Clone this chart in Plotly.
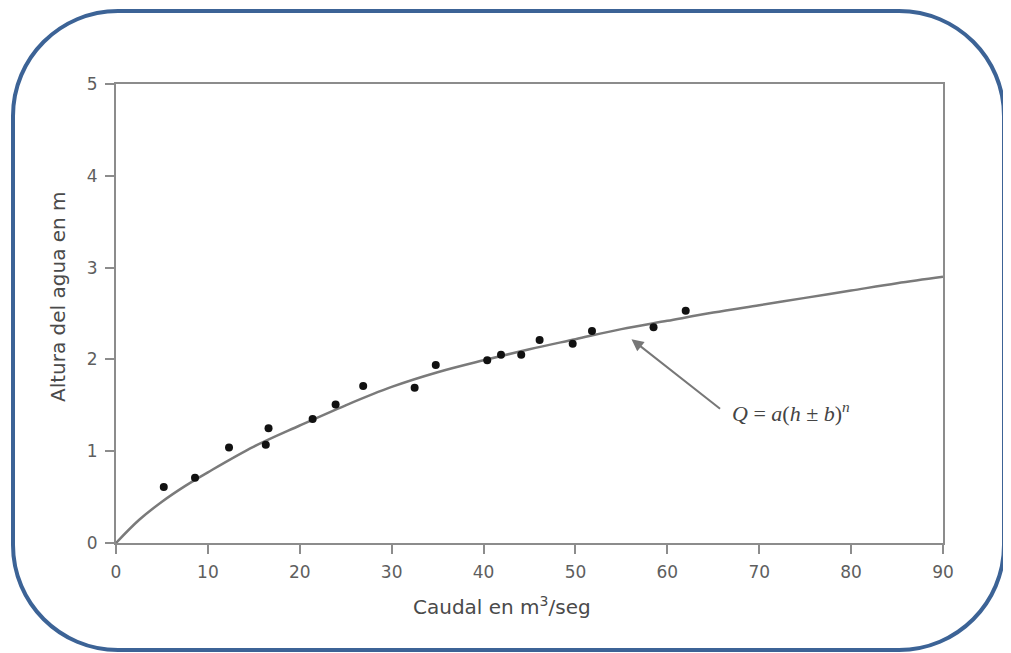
import plotly.graph_objects as go

# Observed data points (caudal Q in m3/seg, altura h in m)
caudal = [5.2, 8.6, 12.3, 16.3, 16.6, 21.4, 23.9, 26.9, 32.5, 34.8, 40.4, 41.9, 44.1, 46.1, 49.7, 51.8, 58.5, 62.0]
altura = [0.61, 0.71, 1.04, 1.07, 1.25, 1.35, 1.51, 1.71, 1.69, 1.94, 1.99, 2.05, 2.05, 2.21, 2.17, 2.31, 2.35, 2.53]

# Fitted rating curve
curva_q = [0, 2.5, 5, 7.5, 10, 15, 20, 25, 30, 35, 40, 45, 50, 55, 60, 65, 70, 75, 80, 85, 90]
curva_h = [0, 0.25, 0.45, 0.62, 0.77, 1.05, 1.28, 1.50, 1.70, 1.86, 1.99, 2.11, 2.22, 2.33, 2.42, 2.51, 2.59, 2.67, 2.75, 2.83, 2.90]

x_ticks = [0, 10, 20, 30, 40, 50, 60, 70, 80, 90]
y_ticks = [0, 1, 2, 3, 4, 5]

OFF = 8  # page body margin
W, H = 1011 - OFF, 653 - OFF
L, R, T, B = 116 - OFF, 68, 84 - OFF, 110
pw, ph = W - L - R, H - T - B

def px(xp):
    return (xp - OFF - L) / pw

def py(yp):
    return (H - B - (yp - OFF)) / ph

AX = "#8c8c8c"
TXT = "#5e5e5e"
FONT = "DejaVu Sans"

fig = go.Figure()
fig.add_trace(go.Scatter(x=curva_q, y=curva_h, mode="lines", line=dict(color="#7a7a7a", width=2.5, shape="spline"),
                         hoverinfo="skip", showlegend=False))
fig.add_trace(go.Scatter(x=caudal, y=altura, mode="markers", marker=dict(color="#111111", size=8),
                         showlegend=False))

axis_common = dict(showgrid=False, zeroline=False, showline=True, linecolor=AX, linewidth=2, mirror=True,
                   ticks="outside", tickcolor=AX, tickwidth=2, ticklen=9,
                   tickfont=dict(family=FONT, size=17, color=TXT))
fig.update_xaxes(range=[0, 90], tickvals=x_ticks, ticklabelstandoff=4, **axis_common)
fig.update_yaxes(range=[0, 5], tickvals=y_ticks, ticklabelstandoff=4, **axis_common)

# Rounded border (reference pixel geometry converted to paper coords)
x0, x1, y0, y1 = 13, 1004, 11, 650
r = 105
rx, ry = r / pw, r / ph
X0, X1, Y0, Y1 = px(x0), px(x1), py(y1), py(y0)
k = 0.5523
path = (f"M {X0+rx},{Y1} L {X1-rx},{Y1} "
        f"C {X1-rx+k*rx},{Y1} {X1},{Y1-ry+k*ry} {X1},{Y1-ry} "
        f"L {X1},{Y0+ry} "
        f"C {X1},{Y0+ry-k*ry} {X1-rx+k*rx},{Y0} {X1-rx},{Y0} "
        f"L {X0+rx},{Y0} "
        f"C {X0+rx-k*rx},{Y0} {X0},{Y0+ry-k*ry} {X0},{Y0+ry} "
        f"L {X0},{Y1-ry} "
        f"C {X0},{Y1-ry+k*ry} {X0+rx-k*rx},{Y1} {X0+rx},{Y1} Z")
fig.add_shape(type="path", path=path, xref="paper", yref="paper",
              line=dict(color="#3c6396", width=4), layer="below")

# Axis titles
fig.add_annotation(text="Caudal en m<sup>3</sup>/seg", xref="paper", yref="paper", x=px(502), y=py(606),
                   xanchor="center", yanchor="middle",
                   showarrow=False, font=dict(family=FONT, size=20, color="#4a4a4a"))
fig.add_annotation(text="Altura del agua en m", xref="paper", yref="paper", x=px(58), y=py(297),
                   xanchor="center", yanchor="middle",
                   showarrow=False, textangle=-90, font=dict(family=FONT, size=20, color="#4a4a4a"))

# Arrow and formula
fig.add_annotation(x=56.1, y=2.22, ax=65.9, ay=1.45, xref="x", yref="y", axref="x", ayref="y",
                   text="", showarrow=True, arrowhead=2, arrowsize=1.2, arrowwidth=2, arrowcolor="#777777",
                   standoff=0, startstandoff=0)
fig.add_annotation(x=66.8, y=1.43, xref="x", yref="y", xanchor="left", yanchor="middle", showarrow=False,
                   text="<i>Q</i> = <i>a</i>(<i>h</i> ± <i>b</i>)<sup><i>n</i></sup>",
                   font=dict(family="Liberation Serif", size=22, color="#444444"))

fig.update_layout(width=W, height=H, margin=dict(l=L, r=R, t=T, b=B),
                  paper_bgcolor="white", plot_bgcolor="white")

fig.write_html("out.html")
